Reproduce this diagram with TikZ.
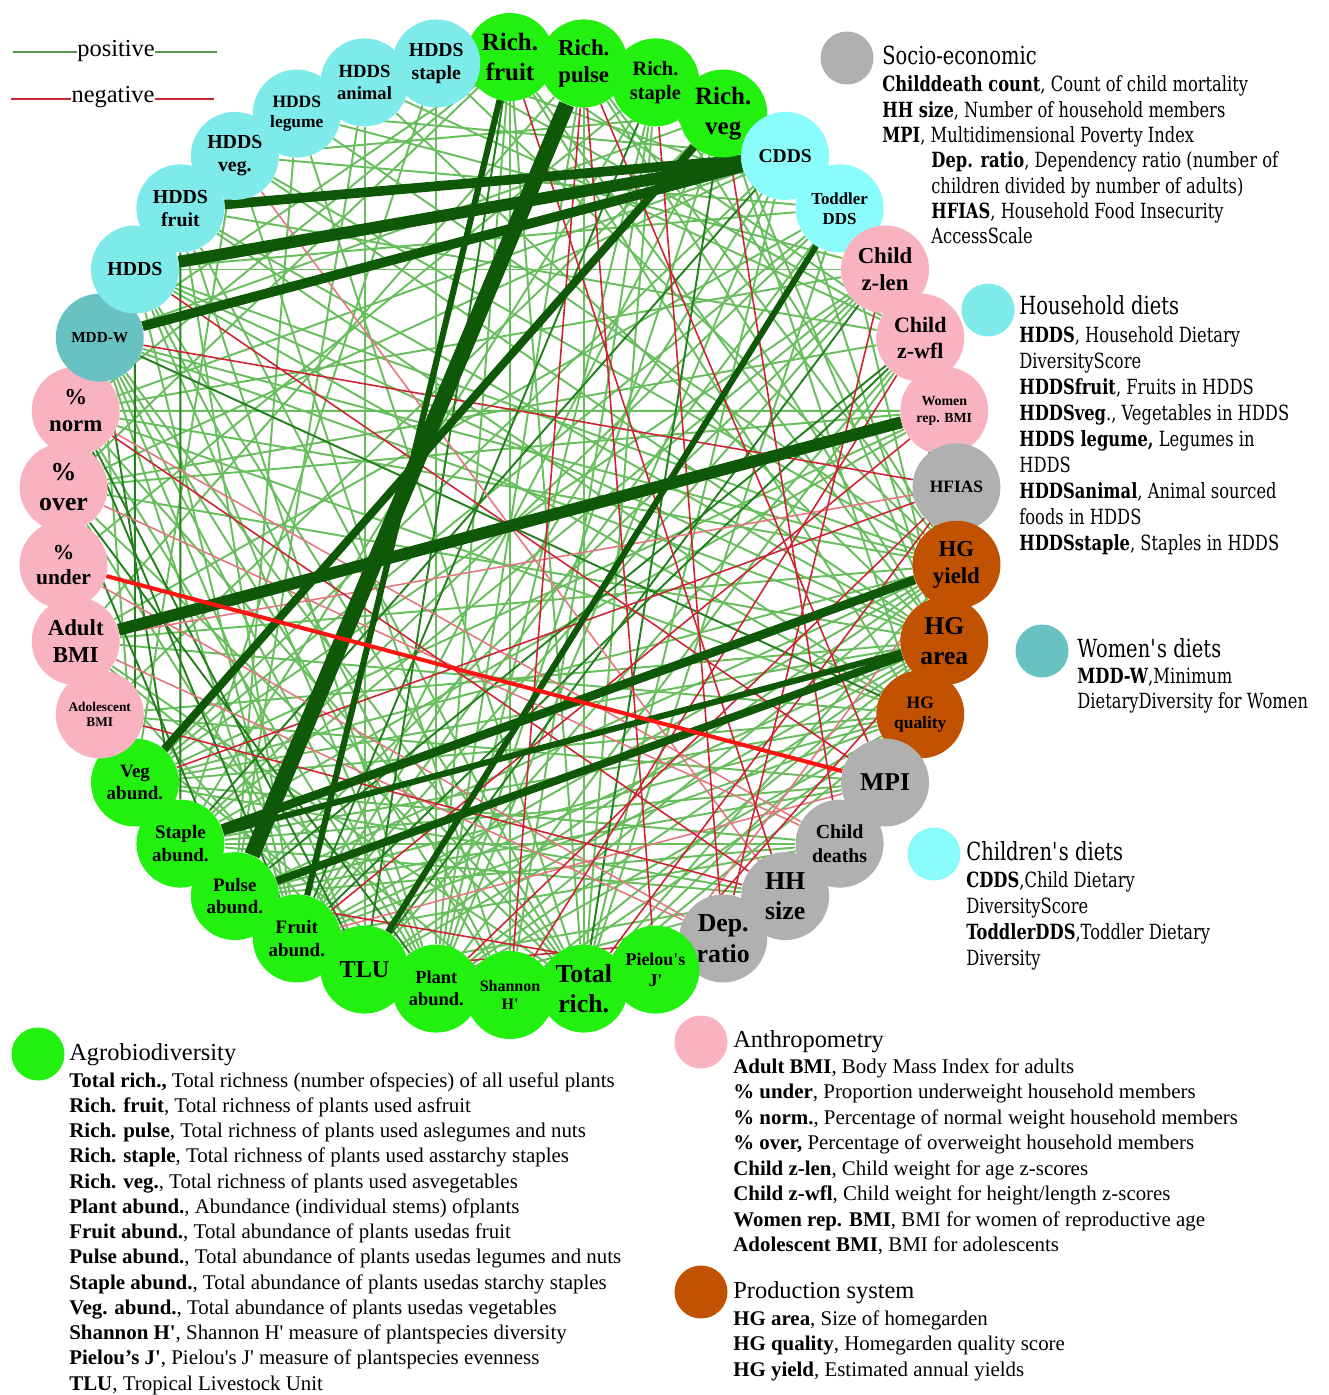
\documentclass[tikz,border=0pt]{standalone}
\usepackage{fontspec}
\setmainfont{Liberation Serif}
\newfontfamily\legfont[FakeStretch=0.78]{DejaVu Serif}
\usetikzlibrary{backgrounds}
\definecolor{agro}{RGB}{34,240,14}
\definecolor{hhdiet}{RGB}{126,234,234}
\definecolor{chdiet}{RGB}{138,252,252}
\definecolor{wodiet}{RGB}{104,194,194}
\definecolor{anthro}{RGB}{249,178,192}
\definecolor{socio}{RGB}{176,176,176}
\definecolor{prod}{RGB}{192,82,2}
\definecolor{posdark}{RGB}{14,88,8}
\definecolor{posline}{RGB}{104,190,92}
\definecolor{posmid}{RGB}{36,128,30}
\definecolor{negline}{RGB}{205,35,50}
\definecolor{negpale}{RGB}{228,118,128}
\definecolor{negbright}{RGB}{255,20,20}
\begin{document}
\begin{tikzpicture}[x=0.02cm,y=-0.02cm,
  nodedecorate/.style={shape=circle,inner sep=0pt,minimum size=1.76cm,align=center},
  posthin/.style={-,line width=1.1pt,draw=posline},
  posmid/.style={-,line width=1.1pt,draw=posmid},
  negthin/.style={-,line width=0.9pt,draw=negline},
  negpale/.style={-,line width=0.9pt,draw=negpale},
  posthick/.style={-,line width=#1,draw=posdark},
  groupdot/.style={shape=circle,inner sep=0pt,minimum size=1.06cm},
  signlab/.style={anchor=base,inner sep=0pt,font=\fontsize{13.9}{16}\selectfont},
  legtitle/.style={anchor=base west,inner sep=0pt,font=\legfont\fontsize{14.2}{17}\selectfont},
  legbody/.style={anchor=base west,inner sep=0pt,font=\legfont\fontsize{11.9}{14}\selectfont},
  keytitle/.style={anchor=base west,inner sep=0pt,font=\fontsize{13.9}{16}\selectfont},
  keybody/.style={anchor=base west,inner sep=0pt,font=\fontsize{11.9}{14}\selectfont}]
\useasboundingbox (0,0) rectangle (1328,1395);
%% nodes on the ring
\foreach \nodename/\i/\col/\fs/\lab in {
  rfruit/0/agro/14.2/{Rich.\\fruit}, rpulse/1/agro/13/{Rich.\\pulse},
  rstaple/2/agro/11.6/{Rich.\\staple}, rveg/3/agro/14.2/{Rich.\\veg},
  cdds/4/chdiet/11.1/{CDDS}, tdds/5/chdiet/9.6/{Toddler\\DDS},
  zlen/6/anthro/13/{Child\\z-len}, zwfl/7/anthro/12.5/{Child\\z-wfl},
  wbmi/8/anthro/7.9/{Women\\rep. BMI}, hfias/9/socio/9.9/{HFIAS},
  hgyield/10/prod/13/{HG\\yield}, hgarea/11/prod/14.6/{HG\\area},
  hgqual/12/prod/9.9/{HG\\quality}, mpi/13/socio/14.6/{MPI},
  cdeath/14/socio/11.3/{Child\\deaths}, hhsize/15/socio/14.7/{HH\\size},
  depratio/16/socio/14.7/{Dep.\\ratio}, pielou/17/agro/10.2/{Pielou\textquotesingle s\\J\textquotesingle},
  totrich/18/agro/14.7/{Total\\rich.}, shannon/19/agro/9.1/{Shannon\\H\textquotesingle},
  plantab/20/agro/10.5/{Plant\\abund.}, tlu/21/agro/13.8/{TLU},
  fruitab/22/agro/10.8/{Fruit\\abund.}, pulseab/23/agro/10.8/{Pulse\\abund.},
  stapleab/24/agro/10.8/{Staple\\abund.}, vegab/25/agro/10.8/{Veg\\abund.},
  adolbmi/26/anthro/7.6/{Adolescent\\BMI}, adultbmi/27/anthro/13/{Adult\\BMI},
  under/28/anthro/12.2/{\%\\under}, over/29/anthro/14.7/{\%\\over},
  norm/30/anthro/13/{\%\\norm}, mddw/31/wodiet/8.7/{MDD-W},
  hdds/32/hhdiet/11.3/{HDDS}, hddsfruit/33/hhdiet/11.3/{HDDS\\fruit},
  hddsveg/34/hhdiet/11.3/{HDDS\\veg.}, hddsleg/35/hhdiet/9.9/{HDDS\\legume},
  hddsanim/36/hhdiet/10.6/{HDDS\\animal}, hddsstap/37/hhdiet/11.2/{HDDS\\staple}} {
  \pgfmathsetmacro\ang{90-\i*360/38}
  \pgfmathsetmacro\ls{1.18*\fs}
  \node (\nodename) at ({510+448*cos(\ang)},{526-469*sin(\ang)})
    [nodedecorate,fill=\col,font={\fontsize{\fs}{\ls}\selectfont\bfseries}] {\lab};
}
%% edges or lines
\begin{pgfonlayer}{background}
\fill[white] (0,0) rectangle (1328,1395);
\path
\foreach \startnode/\endnode in {hdds/hgarea, hdds/hgyield, hdds/hgqual, hdds/zlen, hdds/totrich,
  hdds/plantab, hdds/shannon, hdds/fruitab, hdds/tdds, hddsfruit/hgarea, hddsfruit/totrich,
  hddsfruit/zwfl, hddsfruit/fruitab, hddsfruit/hgqual, hddsfruit/plantab, hddsveg/hgarea,
  hddsveg/rveg, hddsveg/vegab, hddsveg/shannon, hddsveg/tdds, hddsveg/hgyield, hddsleg/rpulse,
  hddsleg/pulseab, hddsleg/hgyield, hddsleg/totrich, hddsleg/cdds, hddsleg/zlen, hddsanim/tlu,
  hddsanim/pulseab, hddsanim/hgarea, hddsanim/rstaple, hddsanim/zwfl, hddsstap/rstaple,
  hddsstap/stapleab, hddsstap/hgyield, hddsstap/plantab, hddsstap/zwfl, hddsstap/tdds,
  mddw/hgarea, mddw/hgyield, mddw/vegab, mddw/totrich, mddw/fruitab, mddw/tlu, mddw/shannon,
  mddw/plantab, mddw/rfruit, mddw/rveg, cdds/vegab, cdds/fruitab, cdds/totrich, cdds/hgarea,
  cdds/plantab, cdds/norm, cdds/over, tdds/hgarea, tdds/fruitab, tdds/totrich, tdds/stapleab,
  tdds/vegab, tdds/adultbmi, rfruit/hgarea, rfruit/hgqual, rfruit/totrich, rfruit/plantab,
  rfruit/shannon, rfruit/over, rfruit/norm, rfruit/zwfl, rpulse/hgyield, rpulse/totrich,
  rpulse/plantab, rpulse/adultbmi, rpulse/hgarea, rstaple/stapleab, rstaple/totrich,
  rstaple/hgyield, rstaple/plantab, rstaple/shannon, rstaple/under, rveg/hgqual, rveg/plantab,
  rveg/fruitab, rveg/adolbmi, rveg/hgarea, zlen/vegab, zlen/stapleab, zlen/fruitab, zlen/norm,
  zlen/pulseab, zwfl/plantab, zwfl/tlu, zwfl/over, wbmi/norm, wbmi/over, wbmi/vegab,
  wbmi/stapleab, hgyield/vegab, hgyield/fruitab, hgyield/plantab, hgyield/tlu, hgyield/totrich,
  hgyield/adultbmi, hgyield/norm, hgarea/vegab, hgarea/fruitab, hgarea/plantab, hgarea/tlu,
  hgarea/totrich, hgarea/shannon, hgarea/over, hgarea/adolbmi, hgqual/vegab, hgqual/fruitab,
  hgqual/plantab, hgqual/totrich, hgqual/shannon, hgqual/stapleab, hgqual/norm, hhsize/tlu,
  hhsize/plantab, hhsize/stapleab, hhsize/vegab, totrich/norm, totrich/over, totrich/adultbmi,
  norm/plantab, over/tlu, adultbmi/shannon, adultbmi/tlu, adolbmi/plantab, cdeath/vegab,
  cdeath/pulseab, mpi/pulseab, mpi/adolbmi, mpi/stapleab, cdeath/stapleab, hgqual/pulseab,
  hgqual/adultbmi, hgyield/pulseab, cdeath/fruitab} {
  (\startnode) edge[posthin] (\endnode)
}
\foreach \startnode/\endnode in {mddw/hgqual, norm/tlu, norm/fruitab, over/plantab, zwfl/fruitab,
  zwfl/pulseab, zlen/tlu, rfruit/tlu, rveg/totrich, hdds/vegab, mddw/stapleab,
  hddsfruit/stapleab, cdds/stapleab, zwfl/hgarea, over/pulseab, rstaple/fruitab} {
  (\startnode) edge[posmid] (\endnode)
}
\foreach \startnode/\endnode in {over/cdeath, under/depratio, adultbmi/depratio, norm/cdeath,
  hfias/adultbmi, hgyield/pielou, mpi/fruitab, hhsize/hddsveg} {
  (\startnode) edge[negpale] (\endnode)
}
\foreach \startnode/\endnode in {mddw/hfias, norm/hhsize, rpulse/shannon, rpulse/pielou,
  rpulse/mpi, zlen/depratio, wbmi/fruitab, adolbmi/hhsize, hfias/totrich, hfias/vegab, mpi/hdds,
  cdeath/rveg, depratio/rstaple, pulseab/pielou, hhsize/rfruit, zwfl/shannon, depratio/tlu,
  hfias/plantab, hgarea/pielou} {
  (\startnode) edge[negthin] (\endnode)
}
\foreach \startnode/\endnode/\w in {rpulse/pulseab/9pt, cdds/hdds/6.8pt, cdds/hddsfruit/5.5pt,
  cdds/mddw/5.5pt, wbmi/adultbmi/6.8pt, rveg/vegab/4.5pt, stapleab/hgyield/5pt,
  pulseab/hgarea/4.5pt, stapleab/hgarea/3.5pt, tdds/tlu/3.5pt, rfruit/fruitab/3.5pt} {
  (\startnode) edge[posthick=\w] (\endnode)
}
(under) edge[line width=2.3pt,draw=negbright] (mpi);
\end{pgfonlayer}
%% sign key
\coordinate (posL) at (13,52);
\coordinate (posR) at (217,52);
\coordinate (negL) at (11,99);
\coordinate (negR) at (214,99);
\node[signlab] (poslab) at (116,57) {positive};
\node[signlab] (neglab) at (113,103) {negative};
\draw[posline!80!black,line width=1.3pt] (posL) -- (posL -| poslab.west) (posR -| poslab.east) -- (posR);
\draw[negline,line width=1.5pt] (negL) -- (negL -| neglab.west) (negR -| neglab.east) -- (negR);
%% group keys on the right
\node[groupdot,fill=socio] (sociodot) at (847,58) {};
\node[legtitle] (sociohead) at (882,65) {Socio-economic};
\foreach \txt [count=\k from 0] in {{\textbf{Childdeath count}, Count of child mortality},
  {\textbf{HH size}, Number of household members}, {\textbf{MPI}, Multidimensional Poverty Index}}
  \node[legbody] (soc-\k) at (882,{92+25.3*\k}) {\txt};
\foreach \txt [count=\k from 3] in {{\textbf{Dep. ratio}, Dependency ratio (number of},
  {children divided by number of adults)}, {\textbf{HFIAS}, Household Food Insecurity}, {AccessScale}}
  \node[legbody] (soc-\k) at (931,{92+25.3*\k}) {\txt};
\node[groupdot,fill=hhdiet] (hhdot) at (988,310) {};
\node[legtitle] (hhhead) at (1019,315) {Household diets};
\foreach \txt [count=\k from 0] in {{\textbf{HDDS}, Household Dietary}, {DiversityScore},
  {\textbf{HDDSfruit}, Fruits in HDDS}, {\textbf{HDDSveg}., Vegetables in HDDS},
  {\textbf{HDDS legume,} Legumes in}, {HDDS}, {\textbf{HDDSanimal}, Animal sourced},
  {foods in HDDS}, {\textbf{HDDSstaple}, Staples in HDDS}}
  \node[legbody] (hh-\k) at (1019,{342+26*\k}) {\txt};
\node[groupdot,fill=wodiet] (wodot) at (1042,651) {};
\node[legtitle] (wohead) at (1077,657) {Women\textquotesingle s diets};
\foreach \txt [count=\k from 0] in {{\textbf{MDD-W},Minimum}, {DietaryDiversity for Women}}
  \node[legbody] (wo-\k) at (1077,{683+25.5*\k}) {\txt};
\node[groupdot,fill=chdiet] (chdot) at (934,854) {};
\node[legtitle] (chhead) at (966,860) {Children\textquotesingle s diets};
\foreach \txt [count=\k from 0] in {{\textbf{CDDS},Child Dietary}, {DiversityScore},
  {\textbf{ToddlerDDS},Toddler Dietary}, {Diversity}}
  \node[legbody] (ch-\k) at (966,{887+26*\k}) {\txt};
%% group keys at the bottom
\node[groupdot,fill=agro] (agrodot) at (38,1054) {};
\node[keytitle] (agrohead) at (69,1060) {Agrobiodiversity};
\foreach \txt [count=\k from 0] in {
  {\textbf{Total rich.,} Total richness (number ofspecies) of all useful plants},
  {\textbf{Rich. fruit}, Total richness of plants used asfruit},
  {\textbf{Rich. pulse}, Total richness of plants used aslegumes and nuts},
  {\textbf{Rich. staple}, Total richness of plants used asstarchy staples},
  {\textbf{Rich. veg.}, Total richness of plants used asvegetables},
  {\textbf{Plant abund.}, Abundance (individual stems) ofplants},
  {\textbf{Fruit abund.}, Total abundance of plants usedas fruit},
  {\textbf{Pulse abund.}, Total abundance of plants usedas legumes and nuts},
  {\textbf{Staple abund.}, Total abundance of plants usedas starchy staples},
  {\textbf{Veg. abund.}, Total abundance of plants usedas vegetables},
  {\textbf{Shannon H\textquotesingle}, Shannon H\textquotesingle{} measure of plantspecies diversity},
  {\textbf{Pielou’s J\textquotesingle}, Pielou\textquotesingle s J\textquotesingle{} measure of plantspecies evenness},
  {\textbf{TLU}, Tropical Livestock Unit}}
  \node[keybody] (agro-\k) at (69,{1087+25.25*\k}) {\txt};
\node[groupdot,fill=anthro] (anthrodot) at (701,1042) {};
\node[keytitle] (anthrohead) at (733,1047) {Anthropometry};
\foreach \txt [count=\k from 0] in {{\textbf{Adult BMI}, Body Mass Index for adults},
  {\textbf{\% under}, Proportion underweight household members},
  {\textbf{\% norm.}, Percentage of normal weight household members},
  {\textbf{\% over,} Percentage of overweight household members},
  {\textbf{Child z-len}, Child weight for age z-scores},
  {\textbf{Child z-wfl}, Child weight for height/length z-scores},
  {\textbf{Women rep. BMI}, BMI for women of reproductive age},
  {\textbf{Adolescent BMI}, BMI for adolescents}}
  \node[keybody] (anthro-\k) at (733,{1073+25.5*\k}) {\txt};
\node[groupdot,fill=prod] (proddot) at (701,1292) {};
\node[keytitle] (prodhead) at (733,1298) {Production system};
\foreach \txt [count=\k from 0] in {{\textbf{HG area}, Size of homegarden},
  {\textbf{HG quality}, Homegarden quality score}, {\textbf{HG yield}, Estimated annual yields}}
  \node[keybody] (prod-\k) at (733,{1325+25.5*\k}) {\txt};
\end{tikzpicture}
\end{document}
